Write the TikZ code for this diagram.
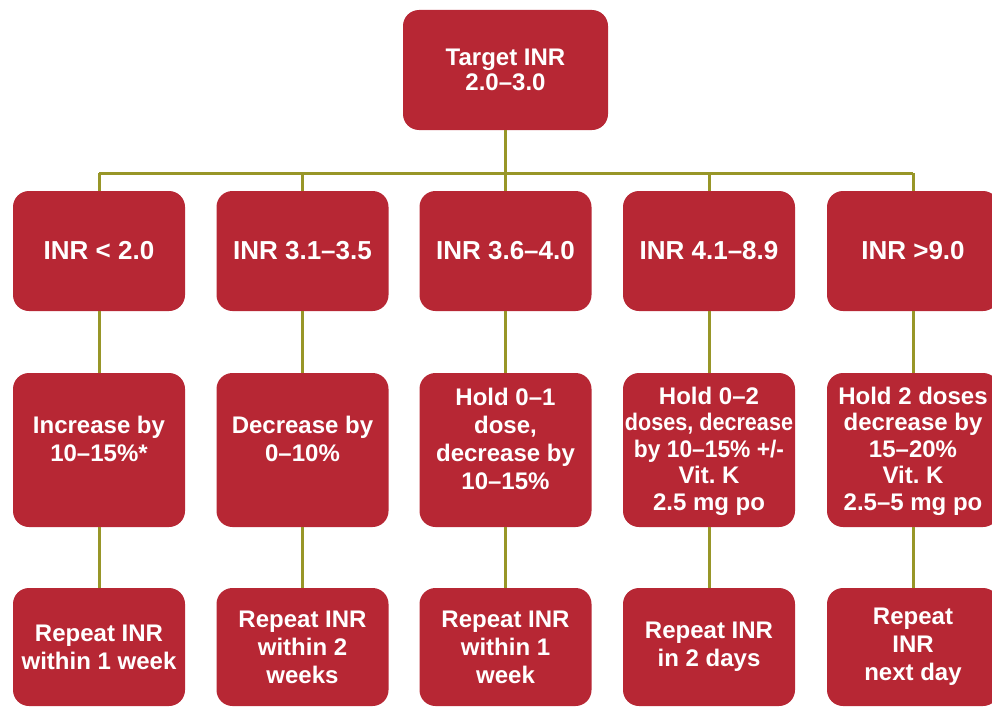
\documentclass[tikz,border=0pt]{standalone}
\usepackage{fontspec}
\setmainfont{Liberation Sans}
\definecolor{boxred}{RGB}{183,39,52}
\definecolor{linkol}{RGB}{152,150,40}
\begin{document}
\begin{tikzpicture}[x=1pt,y=-1pt,
  box/.style={fill=boxred, draw=none, rounded corners=16pt, minimum width=172pt,
    inner sep=0pt, text=white, align=center, font=\bfseries\fontsize{24}{28}\selectfont},
  rowone/.style={box, minimum height=120pt, font=\bfseries\fontsize{26}{30}\selectfont},
  rowtwo/.style={box, minimum height=154pt},
  rowthree/.style={box, minimum height=118pt},
  txt/.style={text=white, align=center, inner sep=0pt, font=\bfseries\fontsize{24}{28}\selectfont},
  link/.style={draw=linkol, line width=3pt}]
\useasboundingbox (0,0) rectangle (992,709);
% top
\node[box, minimum width=205pt, minimum height=120pt, font=\bfseries\fontsize{24}{25.5}\selectfont] (top) at (505.5,70) {Target INR\\2.0–3.0};
% row 1
\node[rowone] (a1) at (99,251) {INR < 2.0};
\node[rowone] (a2) at (302.5,251) {INR 3.1–3.5};
\node[rowone] (a3) at (505.5,251) {INR 3.6–4.0};
\node[rowone] (a4) at (709,251) {INR 4.1–8.9};
\node[rowone] (a5) at (913,251) {INR >9.0};
% row 2
\node[rowtwo] (b1) at (99,450) {};
\node[rowtwo] (b2) at (302.5,450) {};
\node[rowtwo] (b3) at (505.5,450) {};
\node[rowtwo] (b4) at (709,450) {};
\node[rowtwo] (b5) at (913,450) {};
\node[txt] (t1) at ([yshift=11pt]b1.center) {Increase by\\10–15\%*};
\node[txt] (t2) at ([yshift=11pt]b2.center) {Decrease by\\0–10\%};
\node[txt] (t3) at ([yshift=11pt]b3.center) {Hold 0–1\\dose,\\decrease by\\10–15\%};
\node[txt, font=\bfseries\fontsize{24}{26.5}\selectfont] (t4) at ([yshift=-1pt]b4.center) {Hold 0–2\\\scalebox{0.9}[1]{doses, decrease}\\\scalebox{0.95}[1]{by 10–15\% +/-}\\Vit.\ K\\2.5 mg po};
\node[txt, font=\bfseries\fontsize{24}{26.5}\selectfont] (t5) at ([yshift=-1pt]b5.center) {Hold 2 doses\\decrease by\\15–20\%\\Vit.\ K\\2.5–5 mg po};
% row 3
\node[rowthree] (c1) at (99,647) {Repeat INR\\within 1 week};
\node[rowthree] (c2) at (302.5,647) {Repeat INR\\within 2\\weeks};
\node[rowthree] (c3) at (505.5,647) {Repeat INR\\within 1\\week};
\node[rowthree] (c4) at (709,647) {Repeat INR\\in 2 days};
\node[rowthree] (c5) at (913,647) {Repeat\\INR\\next day};
% connectors
\coordinate (bus) at (505.5,173);
\draw[link] (top.south) -- (bus);
\draw[link] (a1.north |- bus) -- (a5.north |- bus);
\foreach \i in {1,...,5}{
  \draw[link] (a\i.north |- bus) -- (a\i.north);
  \draw[link] (a\i.south) -- (b\i.north);
  \draw[link] (b\i.south) -- (c\i.north);
}
\end{tikzpicture}
\end{document}
